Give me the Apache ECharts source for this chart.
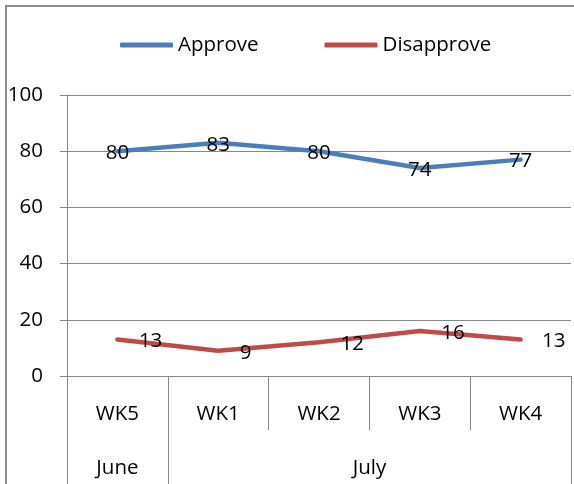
<!DOCTYPE html>
<html>
<head>
<meta charset="utf-8">
<script src="https://cdn.jsdelivr.net/npm/echarts@6/dist/echarts.min.js"></script>
<style>
html,body{margin:0;padding:0;background:#fff;}
#c{width:574px;height:484px;}
</style>
</head>
<body>
<div id="c"></div>
<script>
var weeks = ['WK5', 'WK1', 'WK2', 'WK3', 'WK4'];
var months = ['June', 'July'];
var monthSpans = [1, 4];
var approve = [80, 83, 80, 74, 77];
var disapprove = [13, 9, 12, 16, 13];
var yTicks = [0, 20, 40, 60, 80, 100];

// derived from spans
var monthBounds = [0], monthCenters = [], acc = 0;
for (var i = 0; i < monthSpans.length; i++) {
  monthCenters.push(acc + monthSpans[i] / 2);
  acc += monthSpans[i];
  monthBounds.push(acc);
}
var innerSeps = [];
for (var k = 1; k < weeks.length; k++) innerSeps.push(k);

var FONT = '"Open Sans", "Noto Sans", sans-serif';
var FS = 20.5;
var GRAY = '#878787';
var chart = echarts.init(document.getElementById('c'), null, {renderer: 'canvas'});
chart.setOption({
  animation: false,
  backgroundColor: '#fff',
  textStyle: {fontFamily: FONT},
  graphic: [{
    type: 'rect', silent: true,
    shape: {x: 6, y: 6, width: 800, height: 800},
    style: {fill: 'none', stroke: '#8c8c8c', lineWidth: 2}
  }],
  legend: {
    left: 120, top: 33, padding: 0,
    itemWidth: 53, itemHeight: 5, itemGap: 66,
    icon: 'roundRect',
    textStyle: {fontFamily: FONT, fontSize: FS, color: '#000', lineHeight: 24},
    data: ['Approve', 'Disapprove']
  },
  grid: {left: 67, right: 3, top: 95, bottom: 108, containLabel: false},
  xAxis: [{
    type: 'category', data: weeks, boundaryGap: true, position: 'bottom',
    axisLine: {show: true, lineStyle: {color: GRAY, width: 1}},
    axisTick: {show: false},
    axisLabel: {margin: 26, fontFamily: FONT, fontSize: FS, color: '#000', lineHeight: 24},
    splitLine: {show: false}
  }, {
    type: 'value', min: 0, max: weeks.length, position: 'bottom',
    axisLine: {show: false},
    axisTick: {show: true, customValues: innerSeps, length: 54, lineStyle: {color: GRAY, width: 1}},
    axisLabel: {show: false},
    splitLine: {show: false}
  }, {
    type: 'value', min: 0, max: weeks.length, position: 'bottom',
    axisLine: {show: false},
    axisTick: {show: true, customValues: monthBounds, length: 108, lineStyle: {color: GRAY, width: 1}},
    axisLabel: {
      show: true, customValues: monthCenters, margin: 80,
      fontFamily: FONT, fontSize: FS, color: '#000', lineHeight: 24,
      formatter: function (v) {
        for (var j = 0; j < monthCenters.length; j++) if (Math.abs(monthCenters[j] - v) < 1e-6) return months[j];
        return '';
      }
    },
    splitLine: {show: false}
  }],
  yAxis: {
    type: 'value', min: yTicks[0], max: yTicks[yTicks.length - 1], interval: yTicks[1] - yTicks[0],
    axisLine: {show: true, lineStyle: {color: GRAY, width: 1}},
    axisTick: {show: true, length: 7, lineStyle: {color: GRAY, width: 1}},
    axisLabel: {margin: 24, fontFamily: FONT, fontSize: FS, color: '#000'},
    splitLine: {show: true, lineStyle: {color: GRAY, width: 1}}
  },
  series: [{
    name: 'Approve', type: 'line', data: approve, xAxisIndex: 0,
    symbol: 'circle', symbolSize: 1, showSymbol: true,
    lineStyle: {color: '#4a7ebb', width: 4.5, cap: 'round', join: 'round'},
    itemStyle: {color: '#4a7ebb'},
    label: {show: true, position: 'inside', offset: [0, 2], fontFamily: FONT, fontSize: FS, color: '#000'}
  }, {
    name: 'Disapprove', type: 'line', data: disapprove, xAxisIndex: 0,
    symbol: 'circle', symbolSize: 1, showSymbol: true,
    lineStyle: {color: '#be4b48', width: 4.5, cap: 'round', join: 'round'},
    itemStyle: {color: '#be4b48'},
    label: {show: true, position: 'right', distance: 21, offset: [0, 2], fontFamily: FONT, fontSize: FS, color: '#000'}
  }]
});
</script>
</body>
</html>
